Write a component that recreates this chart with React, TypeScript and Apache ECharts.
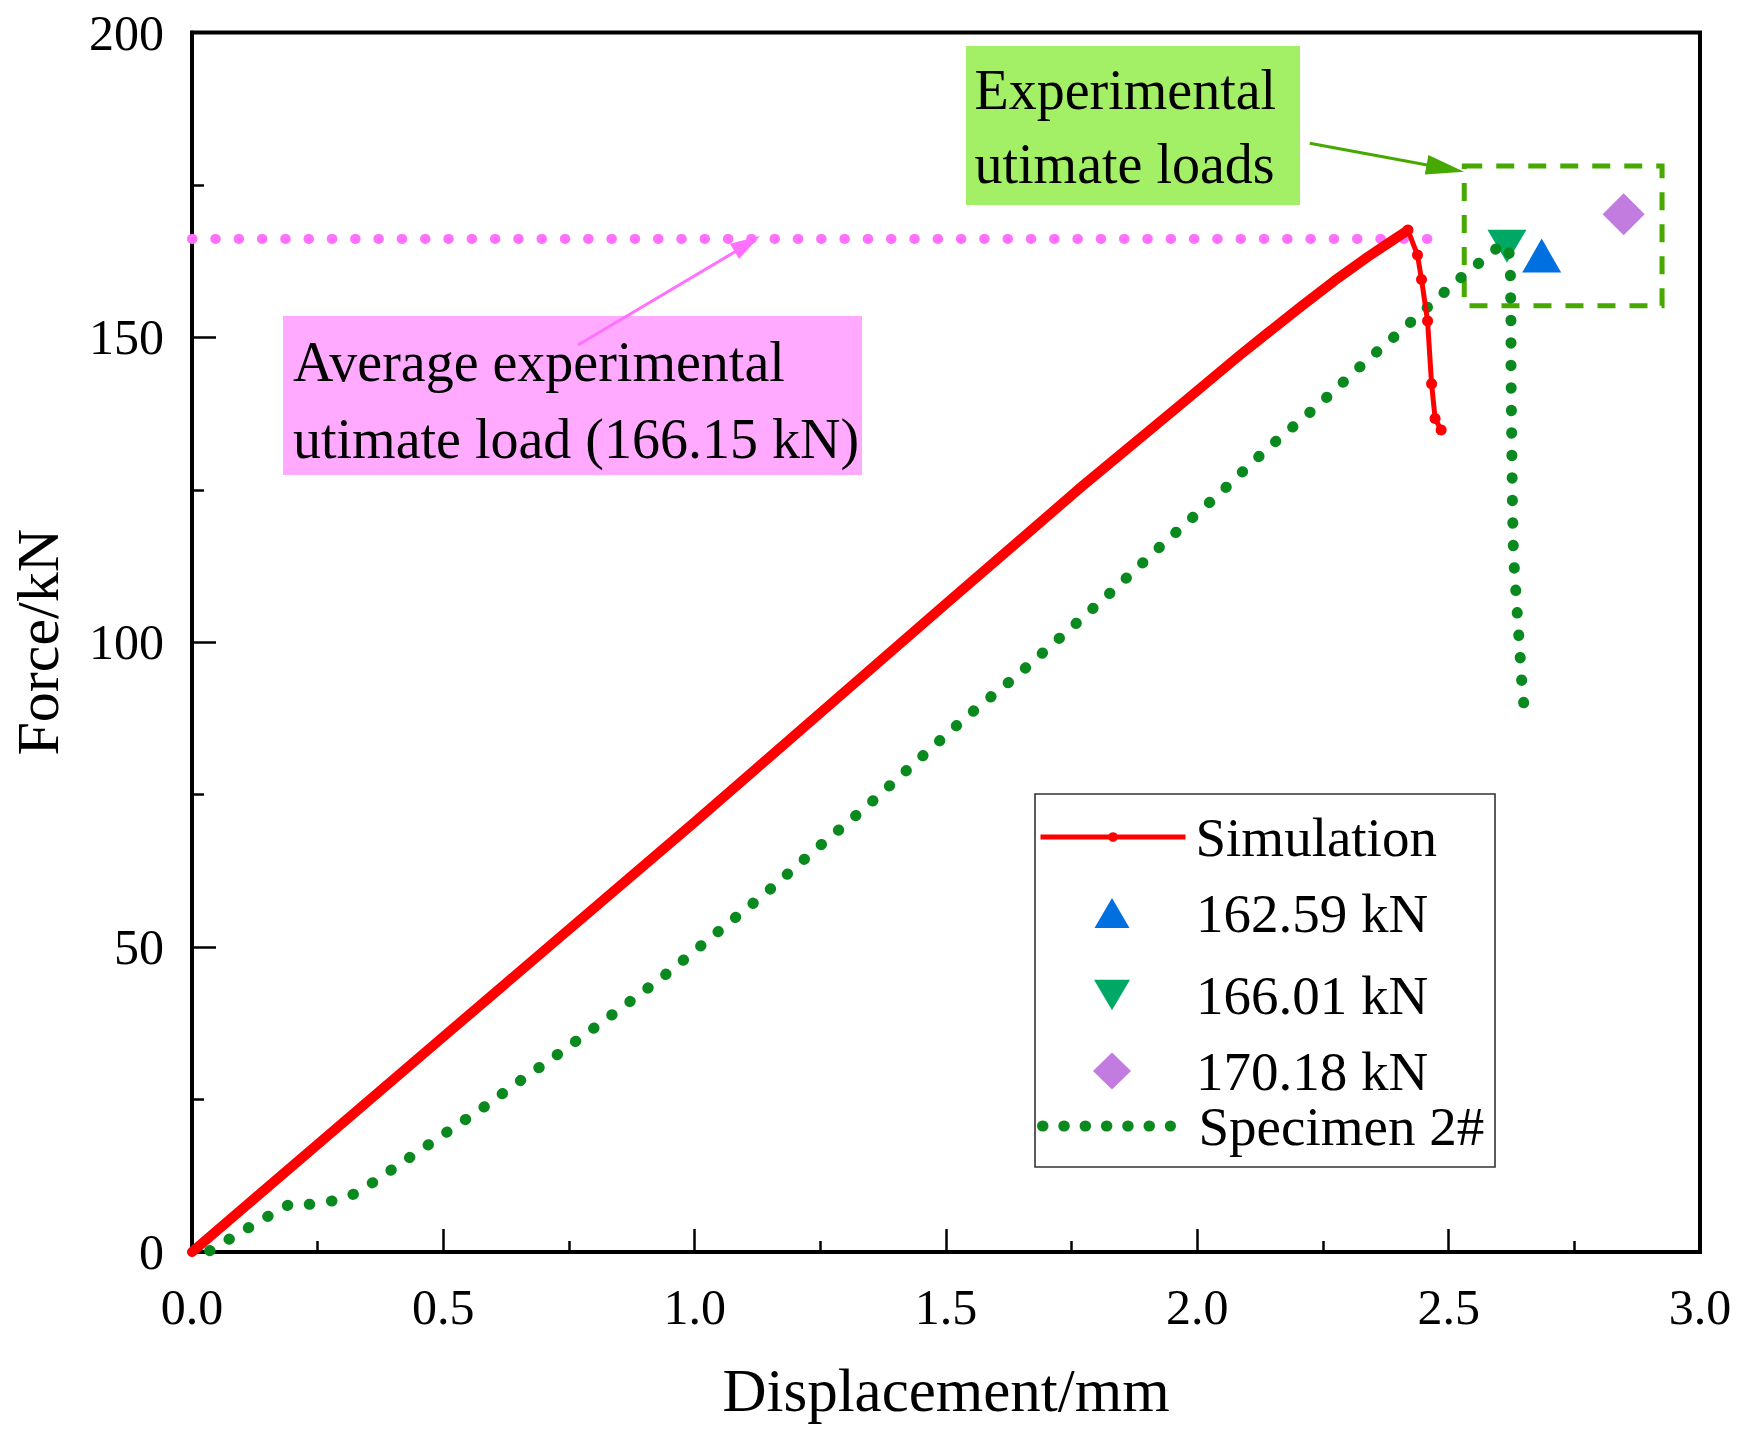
import React, { useEffect, useRef } from "react";
import * as echarts from "echarts";

// ---- data ----
const xTickValues = [0, 0.5, 1.0, 1.5, 2.0, 2.5, 3.0];
const xTickLabels = ["0.0", "0.5", "1.0", "1.5", "2.0", "2.5", "3.0"];
const yTickValues = [0, 50, 100, 150, 200];
const yTickLabels = ["0", "50", "100", "150", "200"];

// Simulation curve: rising part (drawn as a thick band) and post-peak drop (line with markers)
const simRiseX = [0, 0.5, 1.0, 1.5, 1.771, 1.97, 2.082, 2.141, 2.207, 2.273, 2.339, 2.379, 2.419];
const simRiseY = [0, 35.3, 70.5, 106.3, 125.6, 139.2, 146.9, 150.8, 155.1, 159.3, 163.2, 165.4, 167.6];
const simDropX = [2.419, 2.438, 2.446, 2.458, 2.466, 2.473, 2.485];
const simDropY = [167.6, 163.5, 159.5, 152.7, 142.4, 136.7, 134.8];

// Specimen 2# experimental curve
const specX = [
  0.035, 0.082, 0.119, 0.158, 0.198, 0.237, 0.281, 0.322, 0.36, 0.433, 0.504, 0.578, 0.648,
  0.719, 0.791, 0.862, 0.933, 1.002, 1.071, 1.142, 1.243, 1.344, 1.442, 1.541, 1.639, 1.74,
  1.839, 1.938, 2.039, 2.137, 2.238, 2.337, 2.403, 2.472, 2.541, 2.575, 2.609, 2.622, 2.623,
  2.624, 2.624, 2.625, 2.626, 2.627, 2.629, 2.635, 2.641, 2.647, 2.654,
];
const specY = [
  0.2, 2.5, 4.3, 6.2, 8.0, 7.8, 8.4, 9.5, 11.4, 15.5, 19.5, 23.6, 27.8, 31.9, 36.2, 40.5, 44.9,
  49.5, 54.2, 58.9, 66.2, 73.2, 80.5, 87.8, 94.4, 101.7, 109.0, 116.6, 124.0, 131.6, 138.7,
  146.2, 150.9, 156.0, 161.0, 163.1, 165.6, 163.5, 159.5, 152.0, 144.4, 136.9, 129.3, 121.7,
  114.1, 106.6, 99.1, 91.5, 87.0,
];

// Experimental ultimate loads (name, displacement, load)
const ultNames = ["162.59 kN", "166.01 kN", "170.18 kN"];
const ultX = [2.685, 2.616, 2.848];
const ultY = [162.59, 166.01, 170.18];

// Average experimental ultimate load line
const avgLoad = 166.15;
const avgX = [0, 2.49];

// Box around the experimental ultimate loads (data coordinates)
const boxX = [2.531, 2.9245];
const boxY = [178.1, 155.2];

const FONT = '"Liberation Serif", "Times New Roman", serif';
const zip = (xs: number[], ys: number[]) => xs.map((x, i) => [x, ys[i]]);
const findLabel = (vals: number[], labels: string[], v: number) => {
  const i = vals.findIndex((t) => Math.abs(t - v) < 1e-6);
  return i >= 0 ? labels[i] : "";
};

const legendBase = (name: string, left: number, centerY: number, w: number, h: number, textX: number, extra: any = {}) => ({
  data: [name],
  orient: "horizontal",
  left,
  top: centerY - 27.5,
  padding: 0,
  itemWidth: w,
  itemHeight: h,
  selectedMode: false,
  textStyle: {
    fontFamily: FONT,
    fontSize: 55,
    color: "#000",
    padding: [0, 0, 0, textX - (left + w + 5)],
  },
  ...extra,
});

export default function App() {
  const ref = useRef<HTMLDivElement>(null);

  useEffect(() => {
    document.body.style.margin = "0";
    if (!ref.current) return;
    const chart = echarts.init(ref.current, null, { renderer: "svg" });

    const RED = "#ff0000";
    const GREEN = "#0a8a1e";
    const PINK = "#ff70ff";

    const option: any = {
      animation: false,
      backgroundColor: "#ffffff",
      grid: {
        left: 186,
        right: 49,
        top: 32.5,
        bottom: 194,
        show: true,
        borderColor: "#000",
        borderWidth: 4,
        backgroundColor: "rgba(0,0,0,0)",
      },
      xAxis: {
        type: "value",
        min: 0,
        max: 3,
        interval: 0.5,
        axisLine: { show: true, onZero: false, lineStyle: { color: "#000", width: 4 } },
        axisTick: { show: true, inside: true, length: 23, lineStyle: { color: "#000", width: 2.5 } },
        minorTick: { show: true, splitNumber: 2, length: 11, lineStyle: { color: "#000", width: 2.5 } },
        splitLine: { show: false },
        minorSplitLine: { show: false },
        axisLabel: {
          margin: 30,
          color: "#000",
          fontFamily: FONT,
          fontSize: 50,
          formatter: (v: number) => findLabel(xTickValues, xTickLabels, v),
        },
        name: "Displacement/mm",
        nameLocation: "middle",
        nameGap: 108,
        nameTextStyle: { fontFamily: FONT, fontSize: 61, color: "#000" },
      },
      yAxis: {
        type: "value",
        min: 0,
        max: 200,
        interval: 50,
        axisLine: { show: true, onZero: false, lineStyle: { color: "#000", width: 4 } },
        axisTick: { show: true, inside: true, length: 24, lineStyle: { color: "#000", width: 2.5 } },
        minorTick: { show: true, splitNumber: 2, length: 12, lineStyle: { color: "#000", width: 2.5 } },
        splitLine: { show: false },
        minorSplitLine: { show: false },
        axisLabel: {
          margin: 28,
          color: "#000",
          fontFamily: FONT,
          fontSize: 50,
          formatter: (v: number) => findLabel(yTickValues, yTickLabels, v),
        },
        name: "Force/kN",
        nameLocation: "middle",
        nameGap: 124,
        nameRotate: 90,
        nameTextStyle: { fontFamily: FONT, fontSize: 60, color: "#000" },
      },
      legend: [
        legendBase("Simulation", 1038, 837, 145, 12, 1193, {
          lineStyle: { color: RED, width: 5, type: "solid" },
        }),
        legendBase(ultNames[0], 1094.5, 913, 35, 30, 1196),
        legendBase(ultNames[1], 1094, 995, 36, 32, 1196),
        legendBase(ultNames[2], 1093, 1071, 38, 37, 1196),
        legendBase("Specimen 2#", 1037, 1126, 128, 11, 1193, {
          lineStyle: { color: GREEN, width: 11, type: [0.5, 20.8], cap: "round" },
        }),
      ],
      series: [
        {
          name: ultNames[0],
          type: "scatter",
          data: [[ultX[0], ultY[0]]],
          symbol: "triangle",
          symbolSize: [39, 34],
          symbolOffset: [0, -5],
          itemStyle: { color: "#0070e0", opacity: 1 },
          silent: true,
        },
        {
          name: ultNames[1],
          type: "scatter",
          data: [[ultX[1], ultY[1]]],
          symbol: "path://M0,0L40,0L20,34Z",
          symbolSize: [39, 33],
          symbolOffset: [0, 6.5],
          itemStyle: { color: "#00a866", opacity: 1 },
          silent: true,
        },
        {
          name: ultNames[2],
          type: "scatter",
          data: [[ultX[2], ultY[2]]],
          symbol: "diamond",
          symbolSize: [42, 42],
          itemStyle: { color: "#c27ce0", opacity: 1 },
          silent: true,
          markArea: {
            silent: true,
            itemStyle: {
              color: "rgba(0,0,0,0)",
              borderColor: "#46a800",
              borderWidth: 5,
              borderType: [18, 14],
            },
            data: [[{ coord: [boxX[0], boxY[0]] }, { coord: [boxX[1], boxY[1]] }]],
          },
        },
        {
          name: "Specimen 2#",
          type: "line",
          data: zip(specX, specY),
          symbol: "none",
          lineStyle: { color: GREEN, width: 11, type: [0.5, 22], cap: "round" },
          itemStyle: { color: GREEN },
          silent: true,
        },
        {
          name: "Average experimental ultimate load",
          type: "line",
          data: avgX.map((x) => [x, avgLoad]),
          symbol: "none",
          lineStyle: { color: PINK, width: 10, type: [0.5, 22.8], cap: "round" },
          silent: true,
        },
        {
          name: "Simulation (rising)",
          type: "line",
          data: zip(simRiseX, simRiseY),
          symbol: "none",
          lineStyle: { color: RED, width: 10, cap: "round", join: "round" },
          silent: true,
        },
        {
          name: "Simulation",
          type: "line",
          data: zip(simDropX, simDropY),
          symbol: "circle",
          symbolSize: 11,
          showSymbol: true,
          lineStyle: { color: RED, width: 5 },
          itemStyle: { color: RED },
          silent: true,
        },
      ],
      graphic: [
        // legend frame
        {
          type: "rect",
          shape: { x: 1035, y: 794, width: 460, height: 373 },
          style: { fill: "rgba(0,0,0,0)", stroke: "#333", lineWidth: 1.6 },
          z: 1,
        },
        // pink annotation
        {
          type: "rect",
          shape: { x: 283, y: 316, width: 579, height: 159 },
          style: { fill: "#ffaaff" },
          z: 1,
        },
        {
          type: "text",
          x: 293,
          y: 362,
          style: { text: "Average experimental", fontFamily: FONT, fontSize: 56, fill: "#000", verticalAlign: "middle" },
          z: 3,
        },
        {
          type: "text",
          x: 293,
          y: 439,
          style: { text: "utimate load (166.15 kN)", fontFamily: FONT, fontSize: 56, fill: "#000", verticalAlign: "middle" },
          z: 3,
        },
        {
          type: "line",
          shape: { x1: 578, y1: 345, x2: 738, y2: 250 },
          style: { stroke: PINK, lineWidth: 3 },
          z: 5,
        },
        {
          type: "polygon",
          shape: { points: [[760, 236], [739, 259], [730, 243.7]] },
          style: { fill: PINK },
          z: 5,
        },
        // green annotation
        {
          type: "rect",
          shape: { x: 966, y: 46, width: 334, height: 159 },
          style: { fill: "#a3ef66" },
          z: 1,
        },
        {
          type: "text",
          x: 974.5,
          y: 89.7,
          style: { text: "Experimental", fontFamily: FONT, fontSize: 56, fill: "#000", verticalAlign: "middle" },
          z: 3,
        },
        {
          type: "text",
          x: 974.5,
          y: 164.4,
          style: { text: "utimate loads", fontFamily: FONT, fontSize: 56, fill: "#000", verticalAlign: "middle" },
          z: 3,
        },
        {
          type: "line",
          shape: { x1: 1309.7, y1: 143.3, x2: 1430, y2: 165.5 },
          style: { stroke: "#46a800", lineWidth: 3 },
          z: 5,
        },
        {
          type: "polygon",
          shape: { points: [[1464, 171.7], [1424.8, 174.6], [1428.4, 155.0]] },
          style: { fill: "#46a800" },
          z: 5,
        },
      ],
    };

    chart.setOption(option);
    return () => chart.dispose();
  }, []);

  return <div ref={ref} style={{ width: 1749, height: 1446 }} />;
}
